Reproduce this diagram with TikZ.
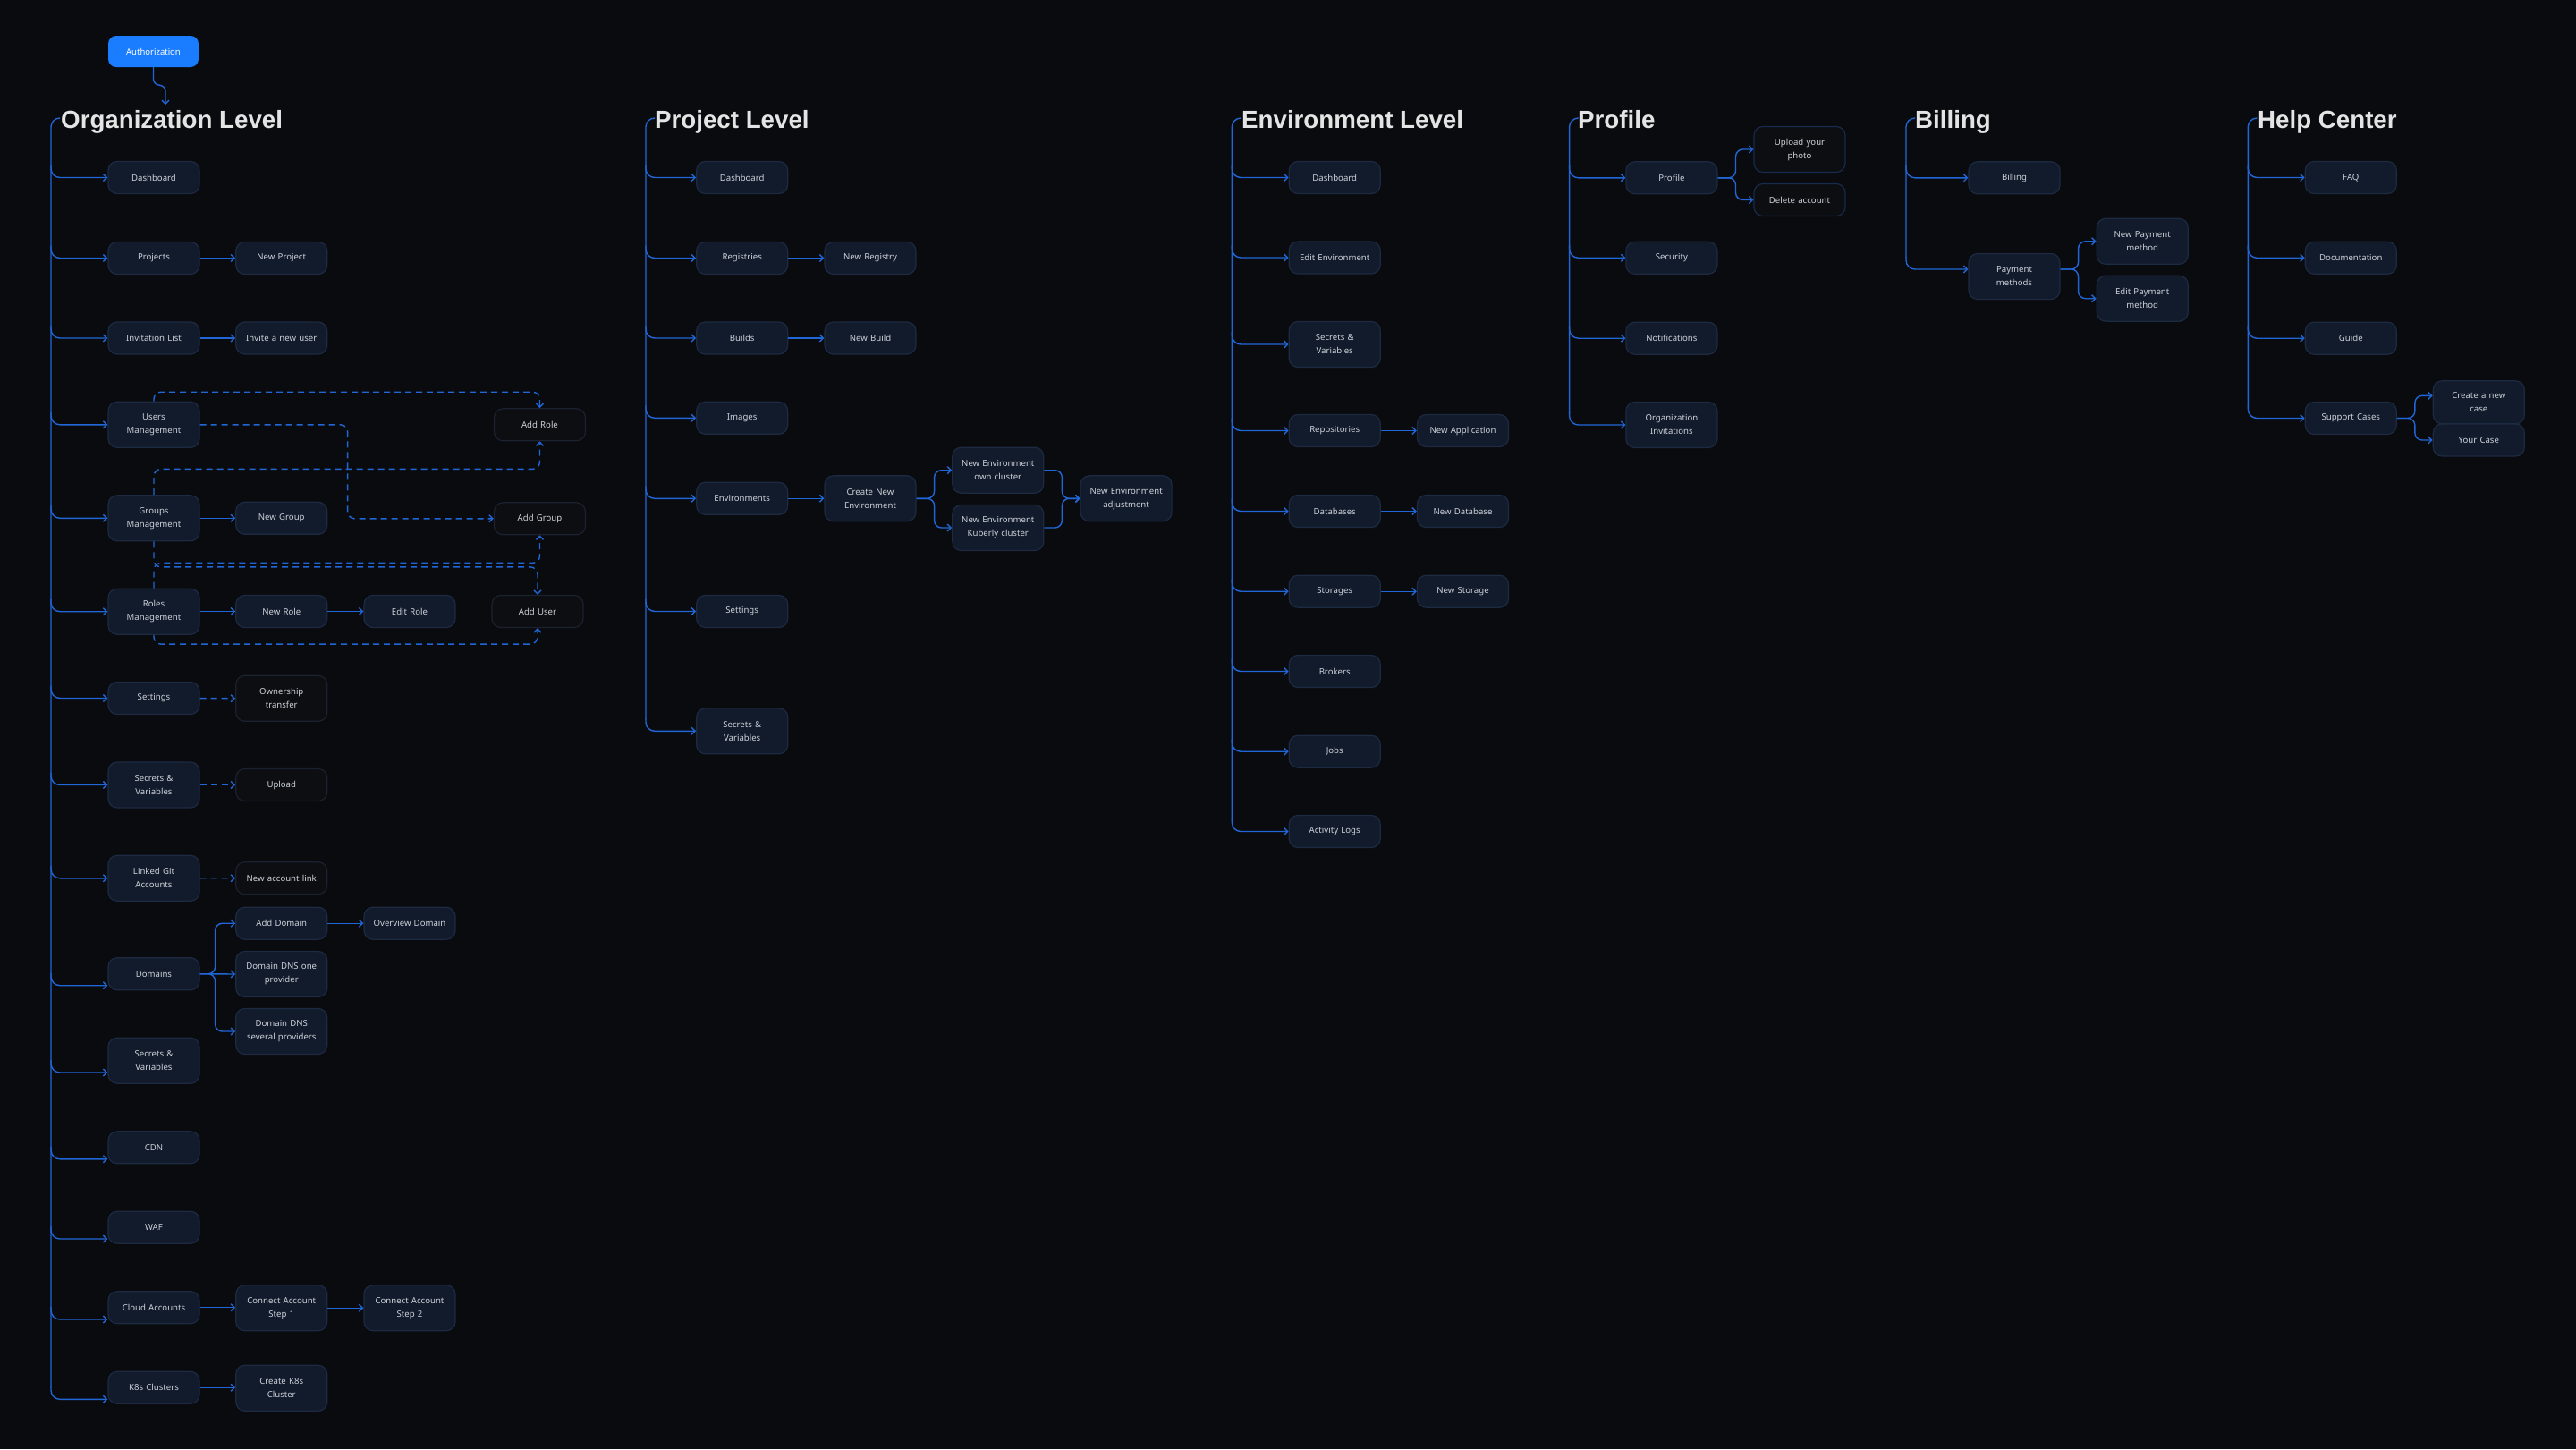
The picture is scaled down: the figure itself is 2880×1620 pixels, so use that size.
\documentclass[tikz,border=0pt]{standalone}
\usepackage{fontspec}
\setmainfont{Noto Sans}
\newfontfamily\titlefont{Liberation Sans}
\usetikzlibrary{arrows.meta,calc}
\definecolor{bgc}{HTML}{0A0B0E}
\definecolor{boxfill}{HTML}{121B2B}
\definecolor{boxline}{HTML}{1C2A42}
\definecolor{darkfill}{HTML}{0C0E12}
\definecolor{darkline}{HTML}{1B2130}
\definecolor{blueline}{HTML}{182B4C}
\definecolor{linkc}{HTML}{2166D6}
\definecolor{txt}{HTML}{CDD2DA}
\definecolor{ttl}{HTML}{E4E4E4}
\definecolor{authblue}{HTML}{1A7CFF}
\newcommand\brnch[2]{\draw[link, rounded corners=10pt] ($(#1 |- #2)+(0,-14)$) -- (#1 |- #2) -- (#2);}
\begin{document}
\begin{tikzpicture}[x=1pt,y=-1pt,
  box/.style={draw=boxline, line width=1.2pt, fill=boxfill, rounded corners=10pt,
    minimum width=102pt, minimum height=36pt, text=txt, text width=96pt,
    font=\fontsize{9.6}{15}\selectfont, align=center, inner sep=2pt},
  box2/.style={box, minimum height=51pt},
  ghost/.style={box, fill=darkfill, draw=darkline},
  ghost2/.style={ghost, minimum height=51pt},
  gblue/.style={ghost, draw=blueline},
  gblue2/.style={gblue, minimum height=51pt},
  auth/.style={fill=authblue, rounded corners=9pt, minimum width=101pt, minimum height=35pt,
    text=white, font=\fontsize{9.5}{12}\selectfont, inner sep=2pt},
  link/.style={draw=linkc, line width=1.4pt, -{Straight Barb[length=4pt,width=8pt]}},
  trunk/.style={draw=linkc, line width=1.4pt},
  dlink/.style={link, dash pattern=on 7pt off 5pt},
  title/.style={anchor=base west, font=\titlefont\bfseries\fontsize{27.7}{31}\selectfont, text=ttl, inner sep=0pt}]
\fill[bgc] (0,0) rectangle (2880,1620);
\useasboundingbox (0,0) rectangle (2880,1620);

% ================= Organization Level =================
\node[auth] (auth) at (171.5,57.5) {Authorization};
\node[title] (torg) at (68,143) {Organization Level};
\coordinate (tO) at (57,132);
\coordinate (orgin) at (185,117);
\draw[link, rounded corners=7pt] (auth.south) -- ++(0,20) -| (orgin);

\node[box] (odash) at (172,198.5) {Dashboard};
\node[box] (oproj) at (172,288.5) {Projects};
\node[box] (oinv) at (172,378) {Invitation List};
\node[box2] (ousers) at (172,474.8) {Users\\Management};
\node[box2] (ogroups) at (172,579.3) {Groups\\Management};
\node[box2] (oroles) at (172,683.7) {Roles\\Management};
\node[box] (oset) at (172,780.5) {Settings};
\node[box2] (osec) at (172,877.5) {Secrets \&\\Variables};
\node[box2] (ogit) at (172,981.8) {Linked Git\\Accounts};
\node[box] (odom) at (172,1088.7) {Domains};
\node[box2] (osec2) at (172,1185.7) {Secrets \&\\Variables};
\node[box] (ocdn) at (172,1282.8) {CDN};
\node[box] (owaf) at (172,1372.2) {WAF};
\node[box] (ocloud) at (172,1461.7) {Cloud Accounts};
\node[box] (ok8s) at (172,1551.3) {K8s Clusters};

\node[box] (onewproj) at (314.75,288.5) {New Project};
\node[box] (oinvite) at (314.75,378) {Invite a new user};
\node[box] (onewgroup) at (314.75,579.3) {New Group};
\node[box] (onewrole) at (314.75,683.5) {New Role};
\node[ghost2] (oown) at (314.75,780.8) {Ownership\\transfer};
\node[ghost] (oupload) at (314.75,877.5) {Upload};
\node[ghost] (onewacc) at (314.75,981.7) {New account link};
\node[box] (oadddom) at (314.75,1032.2) {Add Domain};
\node[box2] (odns1) at (314.75,1089) {Domain DNS one\\provider};
\node[box2] (odns2) at (314.75,1153) {Domain DNS\\several providers};
\node[box2] (ostep1) at (314.75,1462.2) {Connect Account\\Step 1};
\node[box2] (ocreatek) at (314.75,1551.8) {Create K8s\\Cluster};

\node[box] (oeditrole) at (458,683.5) {Edit Role};
\node[box] (ooverview) at (458,1032.2) {Overview Domain};
\node[box2] (ostep2) at (458,1462.2) {Connect Account\\Step 2};

\node[ghost] (oaddrole) at (603.5,474.8) {Add Role};
\node[ghost] (oaddgroup) at (603.5,579.8) {Add Group};
\node[ghost] (oadduser) at (601,683.5) {Add User};

\coordinate (odomin) at ($(odom.west)+(0,13)$);
\coordinate (osec2in) at ($(osec2.west)+(0,13.3)$);
\coordinate (ocdnin) at ($(ocdn.west)+(0,13)$);
\coordinate (owafin) at ($(owaf.west)+(0,12.8)$);
\coordinate (ocloudin) at ($(ocloud.west)+(0,13.3)$);
\coordinate (ok8sin) at ($(ok8s.west)+(0,13)$);

\draw[trunk, rounded corners=10pt] ($(torg.base west)+(-1,-11)$) -- (tO) -- ($(tO |- ok8sin)+(0,-13)$);
\brnch{tO}{odash.west}
\brnch{tO}{oproj.west}
\brnch{tO}{oinv.west}
\brnch{tO}{ousers.west}
\brnch{tO}{ogroups.west}
\brnch{tO}{oroles.west}
\brnch{tO}{oset.west}
\brnch{tO}{osec.west}
\brnch{tO}{ogit.west}
\brnch{tO}{odomin}
\brnch{tO}{osec2in}
\brnch{tO}{ocdnin}
\brnch{tO}{owafin}
\brnch{tO}{ocloudin}
\brnch{tO}{ok8sin}

\draw[link] (oproj) -- (onewproj);
\draw[link] (oinv) -- (oinvite);
\draw[link] (ogroups.east) -- (onewgroup.west);
\draw[link] (oroles.east |- onewrole.west) -- (onewrole.west);
\draw[link] (onewrole) -- (oeditrole);
\draw[dlink] (oset) -- (oown);
\draw[dlink] (osec) -- (oupload);
\draw[dlink] (ogit) -- (onewacc);
\draw[link, rounded corners=8pt] (odom.east) -- ++(17,0) |- (oadddom.west);
\draw[link] (odom.east) -- (odns1.west);
\draw[link, rounded corners=8pt] (odom.east) -- ++(17,0) |- (odns2.west);
\draw[link] (oadddom) -- (ooverview);
\draw[link] (ocloud.east) -- (ocloud.east -| ostep1.west);
\draw[link] (ostep1) -- (ostep2);
\draw[link] (ok8s.east) -- (ok8s.east -| ocreatek.west);

% dashed relations
\draw[dlink, rounded corners=8pt] (ousers.north) |- ($(oaddrole.north)+(0,-18)$) -- (oaddrole.north);
\draw[dlink, rounded corners=8pt] (ousers.east) -- ++(165,0) |- (oaddgroup.west);
\draw[dlink, rounded corners=8pt] (ogroups.north) |- ($(oaddrole.south)+(0,31)$) -- (oaddrole.south);
\draw[dlink, rounded corners=8pt] (oroles.north) |- ($(oaddgroup.south)+(0,31)$) -- (oaddgroup.south);
\draw[dlink, rounded corners=8pt] (ogroups.south) |- ($(oadduser.north)+(0,-31)$) -- (oadduser.north);
\draw[dlink, rounded corners=8pt] (oroles.south) |- ($(oadduser.south)+(0,18)$) -- (oadduser.south);

% ================= Project Level =================
\node[title] (tproj) at (732,143) {Project Level};
\coordinate (tP) at (722,132);
\node[box] (pdash) at (829.7,198.5) {Dashboard};
\node[box] (preg) at (829.7,288.5) {Registries};
\node[box] (pbuild) at (829.7,378) {Builds};
\node[box] (pimg) at (829.7,467.3) {Images};
\node[box] (penv) at (829.7,557.3) {Environments};
\node[box] (pset) at (829.7,683.5) {Settings};
\node[box2] (psec) at (829.7,817.3) {Secrets \&\\Variables};
\node[box] (pnewreg) at (973,288.5) {New Registry};
\node[box] (pnewbuild) at (973,378) {New Build};
\node[box2] (pcreate) at (973,557.3) {Create New\\Environment};
\node[box2] (pown) at (1115.8,525.7) {New Environment\\own cluster};
\node[box2] (pkub) at (1115.8,590) {New Environment\\Kuberly cluster};
\node[box2] (padj) at (1259.1,557.3) {New Environment\\adjustment};

\draw[trunk, rounded corners=10pt] ($(tproj.base west)+(-1,-11)$) -- (tP) -- ($(tP |- psec.west)+(0,-13)$);
\brnch{tP}{pdash.west}
\brnch{tP}{preg.west}
\brnch{tP}{pbuild.west}
\brnch{tP}{pimg.west}
\brnch{tP}{penv.west}
\brnch{tP}{pset.west}
\brnch{tP}{psec.west}
\draw[link] (preg) -- (pnewreg);
\draw[link] (pbuild) -- (pnewbuild);
\draw[link] (penv) -- (pcreate);
\draw[link, rounded corners=8pt] (pcreate.east) -- ++(20,0) |- (pown.west);
\draw[link, rounded corners=8pt] (pcreate.east) -- ++(20,0) |- (pkub.west);
\draw[link, rounded corners=8pt] (pown.east) -- ++(20,0) |- (padj.west);
\draw[link, rounded corners=8pt] (pkub.east) -- ++(20,0) |- (padj.west);

% ================= Environment Level =================
\node[title] (tenv) at (1388,143) {Environment Level};
\coordinate (tE) at (1377.3,132);
\node[box] (edash) at (1492.2,198.5) {Dashboard};
\node[box] (eedit) at (1492.2,288) {Edit Environment};
\node[box2] (esec) at (1492.2,385) {Secrets \&\\Variables};
\node[box] (erepo) at (1492.2,481.5) {Repositories};
\node[box] (edb) at (1492.2,571.5) {Databases};
\node[box] (estor) at (1492.2,661.2) {Storages};
\node[box] (ebrok) at (1492.2,750.5) {Brokers};
\node[box] (ejobs) at (1492.2,840.2) {Jobs};
\node[box] (elogs) at (1492.2,929.5) {Activity Logs};
\node[box] (enewapp) at (1635.5,481.5) {New Application};
\node[box] (enewdb) at (1635.5,571.5) {New Database};
\node[box] (enewstor) at (1635.5,661.2) {New Storage};

\draw[trunk, rounded corners=10pt] ($(tenv.base west)+(-1,-11)$) -- (tE) -- ($(tE |- elogs.west)+(0,-13)$);
\brnch{tE}{edash.west}
\brnch{tE}{eedit.west}
\brnch{tE}{esec.west}
\brnch{tE}{erepo.west}
\brnch{tE}{edb.west}
\brnch{tE}{estor.west}
\brnch{tE}{ebrok.west}
\brnch{tE}{ejobs.west}
\brnch{tE}{elogs.west}
\draw[link] (erepo) -- (enewapp);
\draw[link] (edb) -- (enewdb);
\draw[link] (estor) -- (enewstor);

% ================= Profile =================
\node[title] (tprof) at (1764,143) {Profile};
\coordinate (tF) at (1754.6,132);
\node[box] (fprof) at (1868.9,198.8) {Profile};
\node[box] (fsec) at (1868.9,288.3) {Security};
\node[box] (fnotif) at (1868.9,378.2) {Notifications};
\node[box2] (finv) at (1868.9,475) {Organization\\Invitations};
\node[gblue2] (fup) at (2012,167) {Upload your\\photo};
\node[gblue] (fdel) at (2012,223.5) {Delete account};

\draw[trunk, rounded corners=10pt] ($(tprof.base west)+(-1,-11)$) -- (tF) -- ($(tF |- finv.west)+(0,-13)$);
\brnch{tF}{fprof.west}
\brnch{tF}{fsec.west}
\brnch{tF}{fnotif.west}
\brnch{tF}{finv.west}
\draw[link, rounded corners=8pt] (fprof.east) -- ++(20,0) |- (fup.west);
\draw[link, rounded corners=8pt] (fprof.east) -- ++(20,0) |- (fdel.west);

% ================= Billing =================
\node[title] (tbill) at (2141,143) {Billing};
\coordinate (tB) at (2131,132);
\node[box] (bbill) at (2252,198.8) {Billing};
\node[box2] (bpay) at (2252,309) {Payment\\methods};
\node[box2] (bnew) at (2395.2,269.8) {New Payment\\method};
\node[box2] (bedit) at (2395.2,333.7) {Edit Payment\\method};
\coordinate (bpayin) at ($(bpay.west)+(0,-8)$);
\coordinate (bpayout) at ($(bpay.east)+(0,-8)$);

\draw[trunk, rounded corners=10pt] ($(tbill.base west)+(-1,-11)$) -- (tB) -- ($(tB |- bpayin)+(0,-13)$);
\brnch{tB}{bbill.west}
\brnch{tB}{bpayin}
\draw[link, rounded corners=8pt] (bpayout) -- ++(20,0) |- (bnew.west);
\draw[link, rounded corners=8pt] (bpayout) -- ++(20,0) |- (bedit.west);

% ================= Help Center =================
\node[title] (thelp) at (2524,143) {Help Center};
\coordinate (tH) at (2513.3,132);
\node[box] (hfaq) at (2628.3,198.5) {FAQ};
\node[box] (hdoc) at (2628.3,288.3) {Documentation};
\node[box] (hguide) at (2628.3,378.2) {Guide};
\node[box] (hsup) at (2628.3,467.5) {Support Cases};
\node[box, minimum height=48pt] (hcreate) at (2771.3,449.8) {Create a new\\case};
\node[box] (hyour) at (2771.3,492) {Your Case};
\coordinate (hcreatein) at ($(hcreate.west)+(0,-7.5)$);

\draw[trunk, rounded corners=10pt] ($(thelp.base west)+(-1,-11)$) -- (tH) -- ($(tH |- hsup.west)+(0,-13)$);
\brnch{tH}{hfaq.west}
\brnch{tH}{hdoc.west}
\brnch{tH}{hguide.west}
\brnch{tH}{hsup.west}
\draw[link, rounded corners=8pt] (hsup.east) -- ++(20,0) |- (hcreatein);
\draw[link, rounded corners=8pt] (hsup.east) -- ++(20,0) |- (hyour.west);
\end{tikzpicture}
\end{document}
